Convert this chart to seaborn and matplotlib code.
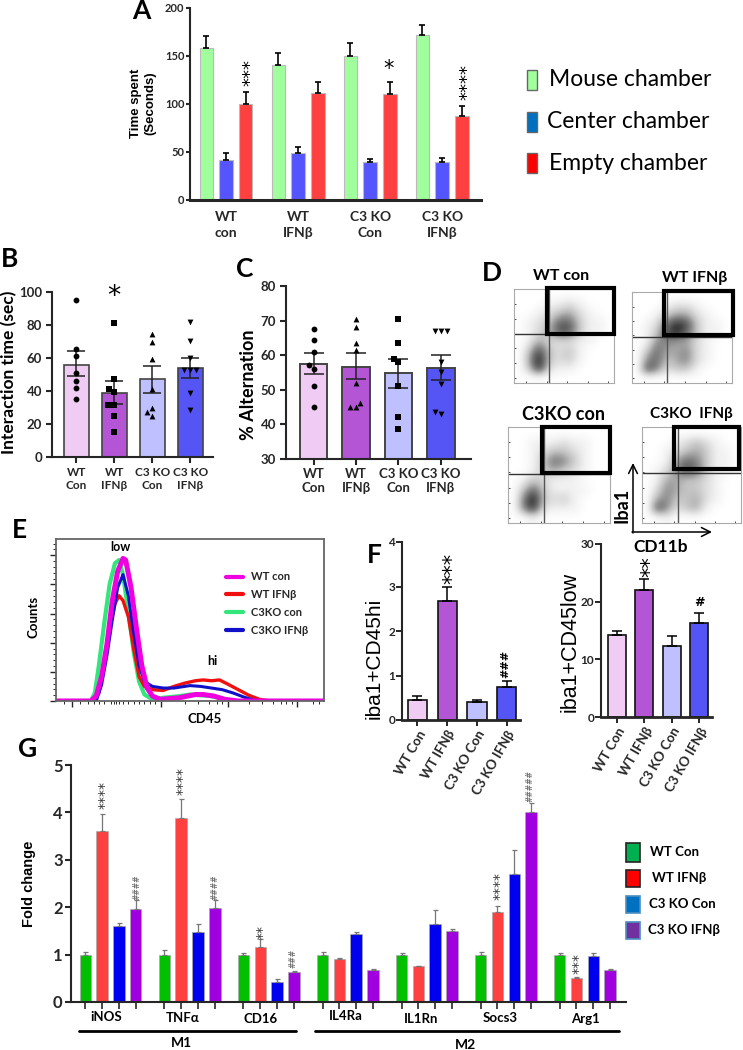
import numpy as np
import pandas as pd
import seaborn as sns
import matplotlib
matplotlib.use('Agg')
import matplotlib.pyplot as plt
from matplotlib.patches import Rectangle, FancyArrowPatch
from matplotlib.lines import Line2D

W, H = 743, 1050

# painel A
a_groups = ['WT\ncon', 'WT\nIFNβ', 'C3 KO\nCon', 'C3 KO\nIFNβ']
a_series = ['Mouse chamber', 'Center chamber', 'Empty chamber']
a_mouse = [158, 140, 150, 171]
a_center = [42, 49, 39, 40]
a_empty = [100, 111, 110, 87]
a_mouse_up = [170, 153, 163, 182]
a_center_up = [49, 55, 43, 44]
a_empty_up = [112, 123, 123, 98]

# paineis B, C, F
groups4 = ['WT\nCon', 'WT\nIFNβ', 'C3 KO\nCon', 'C3 KO\nIFNβ']
groups_rot = ['WT Con', 'WT IFNβ', 'C3 KO Con', 'C3 KO IFNβ']
b_mean = [56, 38.5, 47, 54]
b_low = [49, 32, 39, 48]
b_up = [64, 46, 55, 60]
b_pts = [[95, 65.5, 61, 51, 46, 42, 35],
         [81, 47, 41, 39.5, 31.5, 31.5, 25, 15],
         [74.5, 70, 59.5, 41.5, 30, 27, 25],
         [82, 70.5, 60, 53, 53, 53, 38.5, 28.5]]
c_mean = [57.5, 56.5, 54.7, 56.2]
c_low = [54.5, 53, 50.5, 52.7]
c_up = [60.5, 60.5, 59, 60]
c_pts = [[67.5, 64.5, 61, 57, 56, 51, 45],
         [70.5, 68, 63.5, 61.5, 52, 46.2, 45, 45],
         [70.5, 63.5, 59, 58, 51, 42, 38.7],
         [67, 67, 67, 58, 55, 51.5, 43.5, 43]]
f1_mean = [0.45, 2.67, 0.4, 0.74]
f1_up = [0.53, 3.0, 0.45, 0.88]
f2_mean = [14.3, 22, 12.3, 16.3]
f2_up = [15, 24, 14, 18]

# painel D: densidade estimada a olho (0-9), linhas de cima para baixo
d_wt_con = [[0, 0, 0, 0, 0, 0, 0, 0, 0, 0],
            [0, 0, 0, 1, 1, 2, 1, 0, 0, 0],
            [0, 0, 1, 2, 3, 4, 2, 1, 0, 0],
            [0, 1, 2, 3, 6, 6, 3, 1, 1, 0],
            [0, 1, 2, 4, 7, 7, 3, 1, 1, 0],
            [0, 1, 4, 2, 2, 2, 1, 1, 0, 0],
            [0, 3, 7, 3, 2, 3, 1, 0, 0, 0],
            [0, 4, 9, 3, 2, 3, 1, 0, 0, 0],
            [0, 3, 8, 2, 1, 1, 0, 0, 0, 0],
            [0, 0, 0, 0, 0, 0, 0, 0, 0, 0]]
d_wt_ifn = [[0, 0, 0, 0, 0, 0, 0, 0, 0, 0],
            [0, 0, 0, 1, 2, 2, 1, 0, 0, 0],
            [0, 0, 1, 3, 4, 4, 2, 1, 0, 0],
            [0, 1, 2, 6, 8, 7, 3, 1, 1, 0],
            [0, 1, 3, 7, 8, 6, 3, 1, 1, 0],
            [0, 1, 5, 5, 4, 4, 2, 1, 0, 0],
            [0, 3, 6, 4, 4, 5, 2, 1, 0, 0],
            [0, 5, 6, 3, 4, 5, 2, 1, 0, 0],
            [0, 7, 5, 2, 3, 3, 1, 0, 0, 0],
            [0, 0, 0, 0, 0, 0, 0, 0, 0, 0]]
d_ko_con = [[0, 0, 0, 0, 0, 0, 0, 0, 0, 0],
            [0, 0, 1, 1, 1, 2, 1, 1, 0, 0],
            [0, 0, 1, 2, 3, 3, 2, 1, 0, 0],
            [0, 0, 1, 3, 6, 5, 3, 1, 0, 0],
            [0, 0, 1, 3, 4, 3, 2, 1, 0, 0],
            [0, 1, 3, 2, 1, 1, 1, 0, 0, 0],
            [0, 3, 6, 3, 1, 1, 1, 1, 0, 0],
            [0, 5, 9, 3, 2, 3, 1, 0, 0, 0],
            [0, 5, 8, 2, 1, 1, 1, 0, 0, 0],
            [0, 0, 1, 0, 0, 0, 0, 0, 0, 0]]
d_ko_ifn = [[0, 0, 0, 0, 0, 0, 0, 0, 0, 0],
            [0, 0, 0, 1, 2, 3, 2, 1, 0, 0],
            [0, 0, 1, 2, 3, 4, 3, 1, 1, 0],
            [0, 0, 1, 4, 6, 5, 3, 1, 1, 0],
            [0, 1, 2, 5, 7, 6, 3, 1, 1, 0],
            [0, 1, 4, 4, 3, 3, 2, 1, 0, 0],
            [0, 2, 5, 4, 3, 3, 2, 1, 0, 0],
            [0, 4, 5, 3, 3, 4, 2, 1, 0, 0],
            [0, 7, 5, 2, 3, 4, 1, 0, 0, 0],
            [0, 0, 1, 0, 0, 0, 0, 0, 0, 0]]

# painel E: histograma (canal, contagem)
e_mag_x = [0, 13, 15, 17, 19, 21, 23, 25, 26, 28, 30, 32, 34, 36, 39, 46, 52, 55, 59, 63, 68, 100]
e_mag_y = [0, 0, 3, 15, 35, 62, 80, 88, 87, 70, 45, 22, 8, 3, 1, 2, 4, 4, 3, 1, 0, 0]
e_red_x = [0, 14, 16, 18, 20, 22, 23.5, 25, 27, 29, 31, 33, 36, 40, 44, 48, 52, 55, 58, 61, 64, 68, 72, 76, 80, 100]
e_red_y = [0, 0, 5, 22, 45, 60, 65, 62, 52, 32, 15, 9, 7, 6.5, 9, 11, 12.5, 13, 12.5, 13, 10.5, 7, 3.5, 1, 0, 0]
e_grn_x = [0, 13, 14.5, 16, 18, 20, 22, 23.5, 25, 27, 29, 31, 33, 36, 40, 46, 50, 54, 58, 62, 67, 100]
e_grn_y = [0, 0, 5, 22, 48, 72, 85, 87, 78, 55, 30, 12, 4, 1, 2, 3, 4, 3.5, 3, 1.5, 0, 0]
e_blu_x = [0, 15, 17, 19, 21, 23, 25, 27, 29, 31, 33, 36, 40, 44, 48, 50, 54, 58, 62, 66, 70, 74, 78, 100]
e_blu_y = [0, 0, 10, 28, 50, 70, 78, 65, 42, 22, 12, 9, 8, 8, 9, 9.5, 9, 8, 7, 5, 2.5, 0.5, 0, 0]

# painel G
g_genes = ['iNOS', 'TNFα', 'CD16', 'IL4Ra', 'IL1Rn', 'Socs3', 'Arg1']
g_series = ['WT Con', 'WT IFNβ', 'C3 KO Con', 'C3 KO IFNβ']
g_wt = [1, 1, 1, 1, 1, 1, 1]
g_wt_up = [1.05, 1.1, 1.03, 1.05, 1.03, 1.06, 1.03]
g_ifn = [3.6, 3.89, 1.17, 0.91, 0.75, 1.9, 0.5]
g_ifn_up = [3.97, 4.29, 1.32, 0.93, 0.77, 2.03, 0.52]
g_ko = [1.6, 1.47, 0.43, 1.43, 1.65, 2.7, 0.97]
g_ko_up = [1.66, 1.64, 0.48, 1.47, 1.94, 3.2, 1.04]
g_koifn = [1.96, 1.98, 0.64, 0.68, 1.5, 4.0, 0.68]
g_koifn_up = [2.16, 2.15, 0.66, 0.7, 1.54, 4.2, 0.7]

pal4 = ['#F0CCF5', '#B455D6', '#BFC0FF', '#5555F5']

sns.set_theme(style='ticks')
plt.rcParams['font.family'] = ['Lato', 'DejaVu Sans']
plt.rcParams['axes.linewidth'] = 1.5

fig = plt.figure(figsize=(W / 100, H / 100), dpi=100)


# eixos posicionados em pixels da imagem
def px_axes(l, t, r, b):
    ax = fig.add_axes([l / W, 1 - b / H, (r - l) / W, (b - t) / H])
    ax.patch.set_alpha(0)
    return ax


def err_up(ax, bar, up, color='black', lw=1.2, cap=2.5):
    x = bar.get_x() + bar.get_width() / 2
    h = bar.get_height()
    ax.errorbar(x, h, yerr=[[0], [up - h]], color=color, lw=lw, capsize=cap, capthick=lw)


def four_bars(ax, means, edge, lw):
    df = pd.DataFrame({'g': groups4, 'v': means})
    sns.barplot(data=df, x='g', y='v', hue='g', palette=pal4, width=0.65, saturation=1,
                errorbar=None, legend=False, edgecolor=edge, linewidth=lw, ax=ax)
    ax.set_xlabel('')
    ax.set_ylabel('')


def dots(ax, pts, markers):
    for g, vals, m in zip(groups4, pts, markers):
        sns.swarmplot(x=[g] * len(vals), y=vals, order=groups4, color='black', marker=m,
                      size=4.2, ax=ax, warn_thresh=1)


# A
ax = px_axes(190, 7.5, 481, 200)
df_a = pd.DataFrame({'g': a_groups * 3, 'v': a_mouse + a_center + a_empty,
                     's': np.repeat(a_series, 4)})
sns.barplot(data=df_a, x='g', y='v', hue='s', palette=['#A0FF9C', '#5555FF', '#FF4040'],
            width=0.82, gap=0.31, saturation=1, errorbar=None, legend=False,
            edgecolor='#BBBBBB', linewidth=0.8, ax=ax)
for cont, ups in zip(ax.containers, [a_mouse_up, a_center_up, a_empty_up]):
    for bar, u in zip(cont, ups):
        err_up(ax, bar, u)
ax.set_xlim(-0.5, 3.54)
ax.set_ylim(0, 200)
ax.set_yticks([0, 50, 100, 150, 200])
ax.tick_params(axis='y', labelsize=8, width=1.5, length=3, pad=1)
ax.tick_params(axis='x', length=0, labelsize=10, pad=8)
for t in ax.get_xticklabels() + ax.get_yticklabels():
    t.set_fontweight('bold')
for t in ax.get_xticklabels():
    t.set_linespacing(1.35)
ax.spines['bottom'].set_linewidth(2.2)
ax.set_xlabel('')
ax.set_ylabel('')
sns.despine(ax=ax)

# B
ax = px_axes(52, 292, 213, 457)
four_bars(ax, b_mean, '#444444', 1.2)
dots(ax, b_pts, ['o', 's', '^', 'v'])
for bar, lo, u in zip(ax.patches, b_low, b_up):
    x = bar.get_x() + bar.get_width() / 2
    ax.errorbar(x, bar.get_height(), yerr=[[bar.get_height() - lo], [u - bar.get_height()]],
                color='#222222', lw=1.1, capsize=6.5, capthick=1.1)
ax.set_xlim(-0.645, 3.6)
ax.set_ylim(0, 100)
ax.set_yticks(range(0, 101, 20))
ax.tick_params(axis='y', labelsize=9.5, width=1.5, length=4, pad=3)
ax.tick_params(axis='x', labelsize=8.5, width=1.5, length=4, pad=3)
for t in ax.get_xticklabels() + ax.get_yticklabels():
    t.set_fontweight('bold')
sns.despine(ax=ax)

# C
ax = px_axes(286, 286, 471, 458.7)
four_bars(ax, c_mean, '#444444', 1.4)
dots(ax, c_pts, ['o', '^', 's', 'v'])
for bar, lo, u in zip(ax.patches, c_low, c_up):
    x = bar.get_x() + bar.get_width() / 2
    ax.errorbar(x, bar.get_height(), yerr=[[bar.get_height() - lo], [u - bar.get_height()]],
                color='#222222', lw=1.1, capsize=7, capthick=1.1)
ax.set_xlim(-0.65, 3.71)
ax.set_ylim(30, 80)
ax.set_yticks(range(30, 81, 10))
ax.tick_params(labelsize=9.5, width=1.5, length=4, pad=3)
for t in ax.get_xticklabels() + ax.get_yticklabels():
    t.set_fontweight('bold')
sns.despine(ax=ax)

# D
flow = [(d_wt_con, (514, 289, 614, 383), 549, 334),
        (d_wt_ifn, (632, 292, 732, 383), 667, 337),
        (d_ko_con, (508, 427, 610, 523), 544, 474),
        (d_ko_ifn, (642, 427, 741, 523), 678, 473)]
for grid, box, vx, hy in flow:
    ax = px_axes(*box)
    ax.imshow(np.array(grid), cmap='Greys', vmin=0, vmax=9, aspect='auto',
              interpolation='bicubic', extent=(box[0], box[2], box[3], box[1]))
    ax.axvline(vx, color='#555555', lw=1)
    ax.axhline(hy, color='#333333', lw=1)
    ax.set_xticks(np.linspace(box[0] + 12, box[2] - 6, 5))
    ax.set_yticks(np.linspace(box[1] + 15, box[3] - 5, 6))
    ax.tick_params(labelleft=False, labelbottom=False, length=1.5, width=0.6, direction='in')
    for s in ax.spines.values():
        s.set_color('#AAAAAA')
        s.set_linewidth(0.8)

# E
ax = px_axes(56, 539, 324, 701)
curves = [(e_grn_x, e_grn_y, '#33E67A', 3), (e_red_x, e_red_y, '#F01010', 2.4),
          (e_blu_x, e_blu_y, '#1010C8', 2.2), (e_mag_x, e_mag_y, '#F000E0', 3.6)]
for xs, ys, col, lw in curves:
    sns.lineplot(x=xs, y=ys, color=col, lw=lw, ax=ax, estimator=None, sort=False)
ax.set_xlim(0, 100)
ax.set_ylim(0, 100)
ax.set_xticks([6, 39, 64, 90])
ax.set_xticks([3, 9, 12, 14, 16, 18, 20.5, 21.5, 22.5, 23.5, 25, 27, 29, 31, 33, 35, 37,
               48, 53, 57, 60, 62, 72, 77, 81, 84, 86, 88, 96, 98], minor=True)
ax.set_yticks([0, 18, 36, 54, 72, 90])
ax.set_yticks(np.arange(3.6, 100, 3.6), minor=True)
ax.tick_params(which='major', length=4, width=1, labelleft=False, labelbottom=False)
ax.tick_params(which='minor', length=2, width=0.7)
for s in ax.spines.values():
    s.set_color('#666666')
    s.set_linewidth(1.3)
leg_h = [Line2D([], [], color=c, lw=3) for c in ['#F000E0', '#F01010', '#33E67A', '#1010C8']]
ax.legend(leg_h, ['WT con', 'WT IFNβ', 'C3KO con', 'C3KO IFNβ'], loc='upper left',
          bbox_to_anchor=(0.635, 0.80), frameon=False, handlelength=1.5, handletextpad=0.7,
          labelspacing=0.62, borderpad=0, borderaxespad=0,
          prop={'size': 8, 'weight': 'bold', 'family': ['Lato', 'DejaVu Sans']})

# F
for box, means, ups, ymax, ticks, xl in [((402, 542, 520, 720), f1_mean, f1_up, 4, range(5), (-0.52, 3.45)),
                                         ((601, 544, 712, 717), f2_mean, f2_up, 30, range(0, 31, 10), (-0.58, 3.47))]:
    ax = px_axes(*box)
    four_bars(ax, means, '#111111', 1.2)
    for bar, u in zip(ax.patches, ups):
        err_up(ax, bar, u, lw=1.1, cap=3.5)
    ax.set_xlim(*xl)
    ax.set_ylim(0, ymax)
    ax.set_yticks(list(ticks))
    ax.set_xticks(range(4))
    ax.set_xticklabels(groups_rot, rotation=60, ha='right', rotation_mode='anchor')
    ax.tick_params(axis='x', labelsize=9.5, width=1.4, length=4, pad=2)
    ax.tick_params(axis='y', labelsize=8.5, width=1.4, length=4, pad=1)
    for t in ax.get_xticklabels() + ax.get_yticklabels():
        t.set_fontweight('bold')
    ax.spines['bottom'].set_linewidth(2)
    sns.despine(ax=ax)

# G
ax = px_axes(71, 765, 626, 1002)
df_g = pd.DataFrame({'g': g_genes * 4, 'v': g_wt + g_ifn + g_ko + g_koifn,
                     's': np.repeat(g_series, 7)})
sns.barplot(data=df_g, x='g', y='v', hue='s', palette=['#00C000', '#FF4040', '#0000F0', '#A000E0'],
            width=0.85, gap=0.32, saturation=1, errorbar=None, legend=False,
            edgecolor='#AAAAAA', linewidth=0.5, ax=ax)
centres = []
for cont, ups in zip(ax.containers, [g_wt_up, g_ifn_up, g_ko_up, g_koifn_up]):
    for bar, u in zip(cont, ups):
        err_up(ax, bar, u, color='#777777', lw=0.9, cap=1.8)
        centres.append(bar.get_x() + bar.get_width() / 2)
ax.set_xlim(-0.5, 6.52)
ax.set_ylim(0, 5)
ax.set_xticks(centres)
ax.set_xticklabels([])
ax.set_yticks(range(6))
ax.tick_params(axis='y', labelsize=12, width=1.5, length=4, pad=2)
ax.tick_params(axis='x', width=1.2, length=5)
for t in ax.get_yticklabels():
    t.set_fontweight('bold')
ax.set_xlabel('')
ax.set_ylabel('')
sns.despine(ax=ax)

# camada em pixels para textos, legendas e marcas de significancia
over = fig.add_axes([0, 0, 1, 1], zorder=10)
over.set_xlim(0, W)
over.set_ylim(H, 0)
over.axis('off')


def txt(x, y, s, size=10, weight='bold', rot=0, color='black', ha='center', family=None):
    over.text(x, y, s, fontsize=size, fontweight=weight, rotation=rot, color=color, ha=ha,
              va='center', family=family or ['Lato', 'DejaVu Sans'])


for x, y, s in [(141, 11, 'A'), (10, 259, 'B'), (245, 269, 'C'), (492, 273, 'D'),
                (19, 530, 'E'), (374, 555, 'F'), (28, 749, 'G')]:
    txt(x, y, s, size=19)

# legendas A e G
for y0, y1, col, s, tx in [(70, 90, '#A0FF9C', 'Mouse chamber', 549), (112, 132, '#0070C0', 'Center chamber', 547),
                           (153, 173, '#FF0000', 'Empty chamber', 549)]:
    over.add_patch(Rectangle((527, y0), 10, y1 - y0, fc=col, ec='#666666', lw=1))
    txt(tx, (y0 + y1) / 2, s, size=16.5, weight='normal', ha='left')
for y0, y1, col, ec, s, tx in [(843, 862, '#00B050', '#222222', 'WT Con', 650), (870, 887, '#FF0000', '#222222', 'WT IFNβ', 652),
                               (896, 913, '#0070C0', '#4A90C0', 'C3 KO Con', 649), (922, 939, '#7030A0', '#4A90C0', 'C3 KO IFNβ', 648)]:
    over.add_patch(Rectangle((626, y0), 14, y1 - y0, fc=col, ec=ec, lw=1.2))
    txt(tx, (y0 + y1) / 2, s, size=9.5, ha='left')

# rotulos de eixo
txt(143, 103, 'Time spent\n(Seconds)', size=9.5, rot=90, family='Liberation Sans')
txt(9, 372, 'Interaction time (sec)', size=12.5, rot=90)
txt(248, 385, '% Alternation', size=13, rot=90)
txt(374, 658, 'iba1+CD45hi', size=15, weight='normal', rot=90, family='Liberation Sans')
txt(570, 642, 'iba1+CD45low', size=15.5, weight='normal', rot=90, family='Liberation Sans')
txt(34, 617, 'Counts', size=9.5, rot=90)
txt(205, 719, 'CD45', size=9.5)
txt(120, 547, 'low', size=9)
txt(212, 661, 'hi', size=9)
txt(29, 884, 'Fold change', size=10.5, rot=90, family='Liberation Sans')

# D: titulos, portoes e setas
for x, y, s, size in [(561, 276, 'WT con', 11.5), (695, 278, 'WT IFNβ', 11.5),
                      (564, 414, 'C3KO con', 13), (691, 414, 'C3KO  IFNβ', 11)]:
    txt(x, y, s, size=size)
for x0, y0, x1, y1 in [(547, 288, 614, 334), (664, 291, 733, 335), (542, 427, 610, 473), (674, 427, 739, 469)]:
    over.add_patch(Rectangle((x0, y0), x1 - x0, y1 - y0, fc='none', ec='black', lw=3))
over.add_patch(FancyArrowPatch((633, 533), (633, 463), arrowstyle='->', mutation_scale=16, lw=1.1,
                               color='black', shrinkA=0, shrinkB=0))
over.add_patch(FancyArrowPatch((632, 532), (712, 532), arrowstyle='->', mutation_scale=16, lw=1.1,
                               color='black', shrinkA=0, shrinkB=0))
txt(622, 505, 'Iba1', size=13, rot=90)
txt(661, 547, 'CD11b', size=12.5)

# significancia (asterisco girado fica deslocado para a esquerda)
for x, y, s, size in [(250, 72, '***', 13), (389, 69, '*', 15), (467, 82, '****', 13),
                      (452, 568, '***', 15), (650, 567, '**', 15)]:
    txt(x, y, s, size=size, weight='normal', rot=90 if len(s) > 1 else 0, family='DejaVu Sans')
txt(114, 297, '*', size=19, weight='normal', family='DejaVu Sans')
txt(505, 664, '###', size=8, weight='bold', rot=90, family='DejaVu Sans')
txt(699, 602, '#', size=9, weight='bold', family='DejaVu Sans')
for x, y, s in [(105, 795, '****'), (183, 781, '****'), (263, 932, '**'),
                (500, 886, '****'), (579, 963, '***')]:
    txt(x, y, s, size=10, weight='normal', rot=90, color='#333333', family='DejaVu Sans')
for x, y, s in [(137, 887, '####'), (215, 887, '####'), (293, 958, '###'), (530, 786, '#####')]:
    txt(x, y, s, size=5.5, rot=90, color='#777777', family='DejaVu Sans')

# G: genes e chaves
for x, y, s in [(106, 1017, 'iNOS'), (183, 1018, 'TNFα'), (261, 1019, 'CD16'), (346, 1016, 'IL4Ra'),
                (421, 1019, 'IL1Rn'), (500, 1018, 'Socs3'), (585, 1019, 'Arg1')]:
    txt(x, y, s, size=9.5)
over.plot([79, 296], [1031, 1031], color='black', lw=2)
over.plot([315, 619], [1031, 1031], color='black', lw=2)
txt(181, 1043, 'M1', size=10)
txt(466, 1045, 'M2', size=10)

fig.savefig('out.png', dpi=100)
